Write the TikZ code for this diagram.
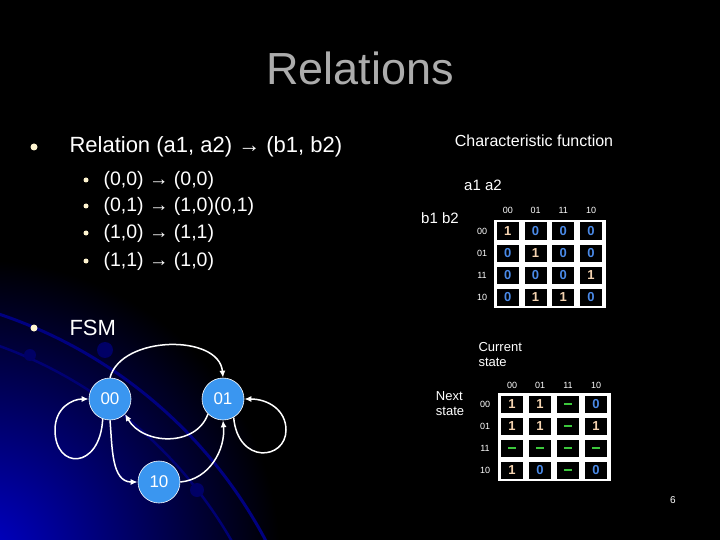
\documentclass[tikz,border=0pt]{standalone}
\usepackage{fontspec}
\setmainfont{Liberation Sans}
\usetikzlibrary{arrows.meta}
\definecolor{stblue}{HTML}{3A96F0}
\definecolor{one}{HTML}{F5D3B0}
\definecolor{zero}{HTML}{4A8AE8}
\definecolor{dsh}{HTML}{3CC83C}
\definecolor{cream}{HTML}{FFF5D0}
\begin{document}
\begin{tikzpicture}[x=1pt,y=-1pt,
  st/.style={circle,fill=stblue,draw=white,line width=0.6pt,minimum size=42pt,inner sep=0pt,text=white,font=\fontsize{17}{17}\selectfont},
  tr/.style={white,line width=1.5pt,-{Latex[length=7pt,width=6pt]}},
  lab/.style={text=white,font=\fontsize{15}{17}\selectfont},
  hdr/.style={text=white,font=\fontsize{9}{9}\selectfont},
  cell/.style={minimum width=22pt,minimum height=17pt,fill=black,inner sep=0pt,font=\bfseries\fontsize{13}{13}\selectfont},
  txt/.style={text=white,anchor=west,font=\fontsize{22}{22}\selectfont},
  subt/.style={text=white,anchor=west,font=\fontsize{19.5}{19.5}\selectfont},
  bul/.style={circle,fill=cream,inner sep=0pt,minimum size=7pt}]
\useasboundingbox (0,0) rectangle (720,540);
\fill[black] (0,0) rectangle (720,540);
\begin{scope}
\clip (0,0) rectangle (720,540);
\shade[inner color=blue!80!black,outer color=black] (-20,560) circle (300);
\draw[blue!50!black,line width=3pt] (-150,760) circle (470);
\draw[blue!45!black,line width=2.5pt] (-150,760) circle (440);
\fill[blue!40!black] (105,350) circle (8);
\fill[blue!40!black] (30,355) circle (6);
\fill[blue!40!black] (197,490) circle (7);
\end{scope}
\node[text=gray!65,font=\fontsize{45}{45}\selectfont] (title) at (360,68) {Relations};
\node[bul] (b1) at (34,147) {};
\node[txt] (t1) at (66,147) {Relation (a1, a2) → (b1, b2)};
\foreach \y/\s [count=\i] in {180/{(0,0) → (0,0)},206/{(0,1) → (1,0)(0,1)},233/{(1,0) → (1,1)},261/{(1,1) → (1,0)}}{
  \node[bul,minimum size=5pt] (sb\i) at (86,\y) {};
  \node[subt] (st\i) at (100,\y) {\s};}
\node[bul] (b2) at (34,328) {};
\node[txt] (t2) at (66,328) {FSM};
% FSM
\node[st] (s00) at (110,399) {00};
\node[st] (s01) at (223,399) {01};
\node[st] (s10) at (159,482) {10};
\draw[tr] (s00.north) to[out=75,in=95,looseness=1.0] (s01.north);
\draw[tr] (s01.south west) to[out=-110,in=-60,looseness=1.1] (s00.south east);
\draw[tr] (s00.-110) .. controls (100,470) and (55,470) .. (55,430) .. controls (55,408) and (72,399) .. (s00.west);
\draw[tr] (s01.-60) .. controls (238,465) and (286,460) .. (286,430) .. controls (286,410) and (268,399) .. (s01.east);
\draw[tr] (s00.south) to[out=-85,in=180] (s10.west);
\draw[tr] (s10.east) to[out=5,in=-85] (s01.south);
% table 1
\node[text=white,font=\fontsize{16}{16}\selectfont] (cf) at (534,141) {Characteristic function};
\node[lab] (a1a2) at (483,185) {a1 a2};
\node[lab] (b1b2) at (440,218) {b1 b2};
\fill[white] (494,220) rectangle (606,308);
\foreach \c [count=\j] in {00,01,11,10}{
  \node[hdr] (h1\j) at (480+27.75*\j,210) {\c};
  \node[hdr] (r1\j) at (482,209+22*\j) {\c};}
\foreach \row [count=\i] in {{1,0,0,0},{0,1,0,0},{0,0,0,1},{0,1,1,0}}{
  \foreach \v [count=\j] in \row {
    \ifnum\v=1 \def\cc{one}\else\def\cc{zero}\fi
    \node[cell,text=\cc] (c1\i\j) at (480+27.75*\j,209+22*\i) {\v};}}
% table 2
\node[text=white,font=\fontsize{13}{15}\selectfont,align=left,anchor=north west] (cs) at (475,339) {Current\\state};
\node[text=white,font=\fontsize{13}{15}\selectfont,align=left] (ns) at (450,404) {Next\\state};
\fill[white] (498,393) rectangle (611,481);
\foreach \c [count=\j] in {00,01,11,10}{
  \node[hdr] (h2\j) at (484+28*\j,385) {\c};
  \node[hdr] (r2\j) at (485,382+22*\j) {\c};}
\foreach \row [count=\i] in {{1,1,-,0},{1,1,-,1},{-,-,-,-},{1,0,-,0}}{
  \foreach \v [count=\j] in \row {
    \node[cell] (c2\i\j) at (484+28*\j,382+22*\i) {};
    \if-\v \fill[dsh] (484+28*\j-4,382+22*\i-1) rectangle ++(8,2);
    \else\if1\v \node[cell,fill=none,text=one] at (c2\i\j) {1};
    \else \node[cell,fill=none,text=zero] at (c2\i\j) {0};\fi\fi}}
\node[text=white,font=\fontsize{10}{10}\selectfont] (pg) at (673,500) {6};
\end{tikzpicture}
\end{document}
